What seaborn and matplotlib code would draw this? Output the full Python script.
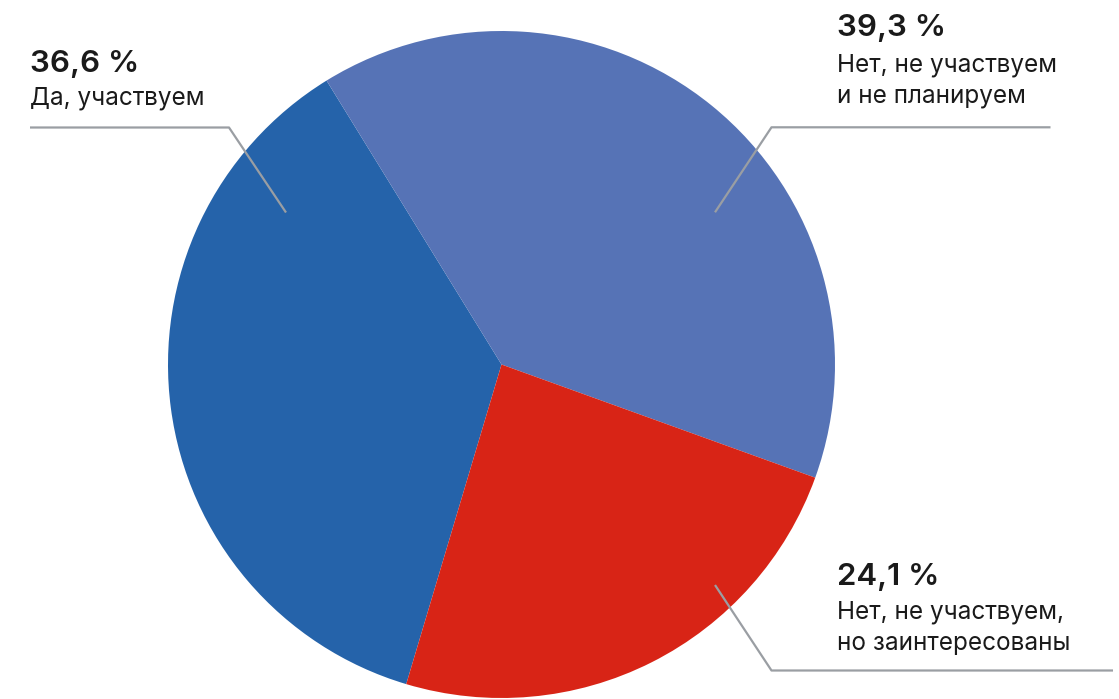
import matplotlib
matplotlib.use("Agg")
import matplotlib.pyplot as plt
import seaborn as sns

# Data
categories = ["Да, участвуем", "Нет, не участвуем\nи не планируем", "Нет, не участвуем,\nно заинтересованы"]
values = [36.6, 39.3, 24.1]
value_labels = ["36,6 %", "39,3 %", "24,1 %"]
colors = ["#2563AA", "#5673B6", "#D82416"]

sns.set_theme(style="white")
plt.rcParams["font.family"] = ["Inter", "DejaVu Sans"]

W, H = 1119, 699
fig = plt.figure(figsize=(W / 100, H / 100), dpi=100)
ax = fig.add_axes([0, 0, 1, 1])

def Y(y):
    return H - y

cx, cy, r = 501.5, 364.5, 333.5
ax.pie(values, colors=sns.color_palette(colors), startangle=253.4, counterclock=False,
       center=(cx, Y(cy)), radius=r, wedgeprops=dict(linewidth=0), frame=True)
ax.set_xlim(0, W)
ax.set_ylim(0, H)
ax.set_aspect("equal")
ax.axis("off")

line_kw = dict(color="#9A9EA3", lw=1.6, solid_capstyle="butt", zorder=5)
txt = "#1A1A1A"
body = dict(fontsize=17.5, color=txt, va="baseline")
num = dict(fontsize=22.5, fontweight="semibold", color=txt, va="baseline")

# Left label
ax.plot([30, 229, 286], [Y(127.5), Y(127.5), Y(212.5)], **line_kw)
ax.text(30, Y(71.5), value_labels[0], **num)
ax.text(30, Y(104), categories[0], **body)

# Right top label
ax.plot([1050.5, 771.5, 715], [Y(127.3), Y(127.3), Y(212.3)], **line_kw)
ax.text(837, Y(36.5), value_labels[1], **num)
for i, line in enumerate(categories[1].split("\n")):
    ax.text(837, Y(71.5 + 30.5 * i), line, **body)

# Right bottom label
ax.plot([1113, 771.5, 715], [Y(670.5), Y(670.5), Y(585)], **line_kw)
ax.text(837, Y(585), value_labels[2], **num)
for i, line in enumerate(categories[2].split("\n")):
    ax.text(837, Y(618 + 32 * i), line, **body)

fig.savefig("out.png", dpi=100, facecolor="white")
